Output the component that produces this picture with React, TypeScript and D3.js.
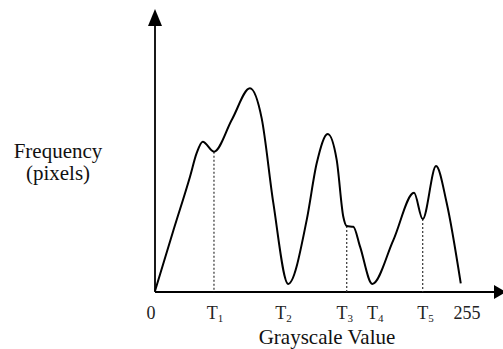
import React from "react";
import * as d3 from "d3";

const curveX = [0, 15, 28.6, 34.1, 39.0, 48.2, 63, 77.6, 87.2, 96.7, 108.9, 124.0, 132.2, 141.2, 148.5, 153.9, 156.7, 162.1, 167.6, 177.6, 194.8, 211.7, 218.8, 229.7, 238.4, 249.9];
const curveY = [0.5, 29, 54.4, 65.6, 70.9, 66.2, 81.5, 96.1, 81.9, 42.0, 3.8, 34.0, 60.8, 74.5, 62.3, 35.5, 31.1, 30.8, 21.4, 3.8, 24.5, 46.8, 34.4, 59.4, 42.0, 4.1];

const thresholdX = [48.2, 156.7, 218.8];
const thresholdY = [66.2, 31.1, 34.4];

const tickValues = [0, 49, 105, 155, 180, 221, 255];
const tickMain = ["0", "T", "T", "T", "T", "T", "255"];
const tickSub = ["", "1", "2", "3", "4", "5", ""];

const xTitle = "Grayscale Value";
const yTitle = ["Frequency", "(pixels)"];

const W = 503;
const H = 349;

export default function App() {
  const x = d3.scaleLinear().domain([0, 255]).range([155, 467]);
  const y = d3.scaleLinear().domain([0, 100]).range([292, 80]);
  const pts: [number, number][] = curveX.map((v, i) => [v, curveY[i]]);
  const line = d3
    .line<[number, number]>()
    .x((d) => x(d[0]))
    .y((d) => y(d[1]))
    .curve(d3.curveMonotoneX);
  const font = "'Liberation Serif', 'Times New Roman', serif";
  const x0 = x(0);
  const y0 = y(0);
  return (
    <svg width={W} height={H} style={{ position: "absolute", left: 0, top: 0, background: "#fff" }}>
      <rect width={W} height={H} fill="#fff" />
      {/* y axis */}
      <line x1={x0} y1={y0} x2={x0} y2={22} stroke="#000" strokeWidth={1.8} />
      <path d={`M${x0},9 L${x0 - 7},26 L${x0 + 7},26 Z`} fill="#000" />
      {/* x axis */}
      <line x1={x0} y1={y0} x2={496} y2={y0} stroke="#000" strokeWidth={1.8} />
      <path d={`M506,${y0} L494,${y0 - 7} L494,${y0 + 7} Z`} fill="#000" />
      {/* thresholds */}
      {thresholdX.map((t, i) => (
        <line
          key={i}
          x1={x(t)}
          x2={x(t)}
          y1={y(thresholdY[i])}
          y2={y0}
          stroke="#333"
          strokeWidth={1.2}
          strokeDasharray="2,2"
        />
      ))}
      {/* curve */}
      <path d={line(pts) || ""} fill="none" stroke="#000" strokeWidth={2} strokeLinejoin="round" />
      {/* ticks */}
      {tickValues.map((t, i) => (
        <text
          key={i}
          x={x(t)}
          dx={i === 0 ? -4 : 0}
          y={319}
          textAnchor="middle"
          fontFamily={font}
          fontSize={18}
          fill="#222"
        >
          {tickMain[i]}
          {tickSub[i] && (
            <tspan fontSize={11} dy={3}>
              {tickSub[i]}
            </tspan>
          )}
        </text>
      ))}
      <text x={327} y={344} textAnchor="middle" fontFamily={font} fontSize={21} fill="#111">
        {xTitle}
      </text>
      <text x={58} y={158} textAnchor="middle" fontFamily={font} fontSize={21} fill="#111">
        {yTitle[0]}
      </text>
      <text x={58} y={180} textAnchor="middle" fontFamily={font} fontSize={21} fill="#111">
        {yTitle[1]}
      </text>
    </svg>
  );
}
